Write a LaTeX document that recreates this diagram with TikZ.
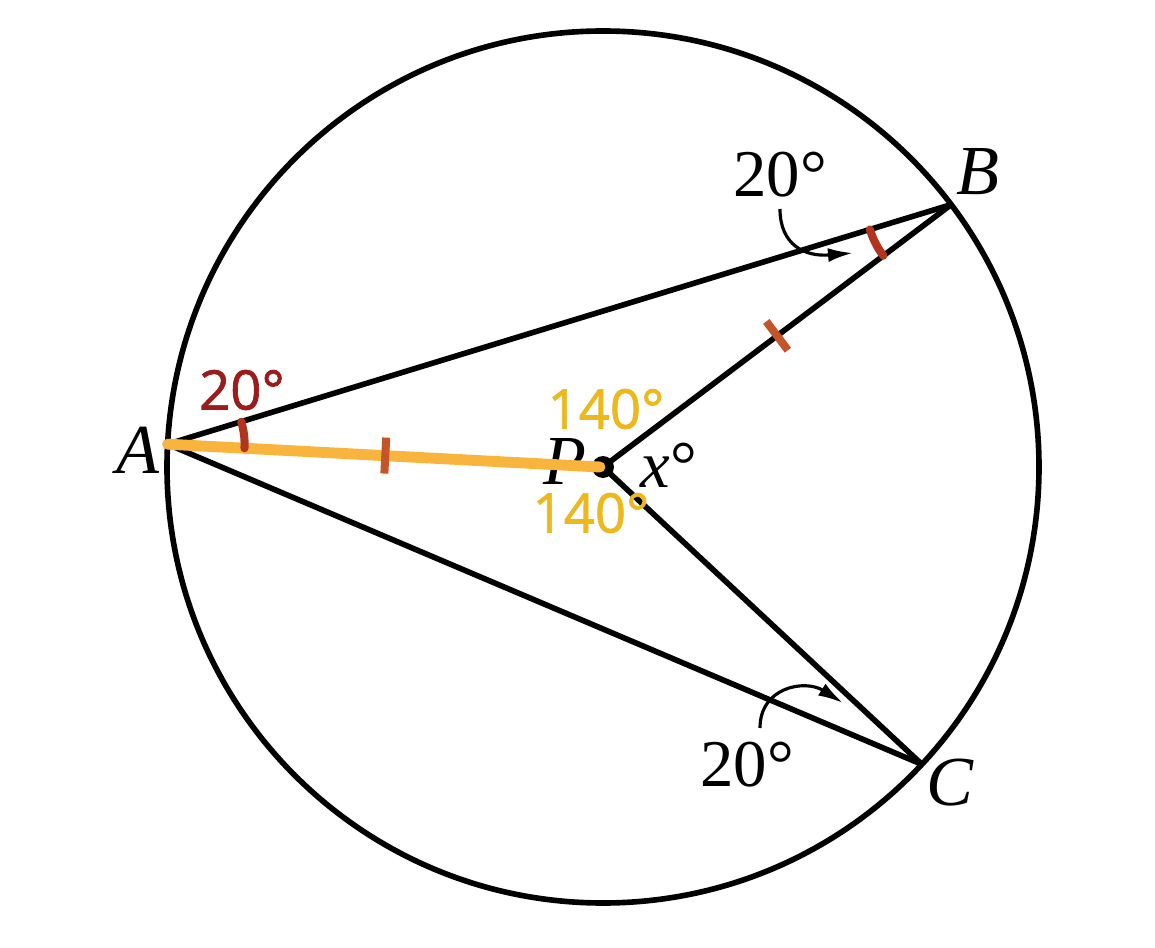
\documentclass[tikz,border=0pt]{standalone}
\usepackage{fontspec}
\setmainfont{Liberation Serif}
\newfontfamily\sanslab[FakeBold=1.3]{Open Sans}
\usetikzlibrary{arrows.meta}
\definecolor{segyellow}{HTML}{F8B43C}
\definecolor{txtyellow}{HTML}{ECB81E}
\definecolor{txtred}{HTML}{9A1C1C}
\definecolor{tickred}{HTML}{C4552B}
\definecolor{arcred}{HTML}{B0341E}
\tikzset{
  ptlabel/.style={font=\fontsize{20}{20}\selectfont\itshape},
  deglabel/.style={font=\fontsize{19}{19}\selectfont},
  redlabel/.style={font=\sanslab\fontsize{15.5}{15.5}\selectfont, text=txtred},
  yellabel/.style={font=\sanslab\fontsize{15.5}{15.5}\selectfont, text=txtyellow},
  tickmark/.style={fill=tickred, inner sep=0pt, minimum width=0.08cm, minimum height=0.36cm, sloped},
  angarc/.style={draw=arcred, line width=2.3pt, line cap=round},
  bentarrow/.style={line width=0.9pt, -{Latex[length=0.25cm, width=0.14cm]}}
}
\begin{document}
\begin{tikzpicture}[line width=1.6pt]
  \useasboundingbox (-6.03,-4.80) rectangle (5.52,4.67);
  % punti sul cerchio
  \coordinate (P) at (0,0);
  \coordinate (A) at (177:4.36);
  \coordinate (B) at (37:4.36);
  \coordinate (C) at (-43:4.36);
  % cerchio e corde
  \draw (P) circle [radius=4.36];
  \draw (A) -- (B);
  \draw (A) -- (C);
  \draw (P) -- (B);
  \draw (P) -- (C);
  % etichette dei punti
  \node[ptlabel] (labA) at (-4.65,0.17) {A};
  \node[ptlabel] (labB) at (3.75,2.95) {B};
  \node[ptlabel] (labC) at (3.47,-3.16) {C};
  \node[ptlabel] (labP) at (-0.38,0.06) {P};
  \node[deglabel] (labX) at (0.66,0.02) {\textit{x}°};
  % raggio AP evidenziato
  \fill (P) circle [radius=0.11];
  \draw[segyellow, line width=3.1pt, line cap=round] (A) -- ([xshift=-0.03cm]P);
  % raggi uguali
  \path (A) -- (P) node[tickmark, midway] (tickAP) {};
  \path (P) -- (B) node[tickmark, midway] (tickPB) {};
  % angoli alla circonferenza
  \draw[angarc] ([shift={(A)}]-3:0.77) arc [start angle=-3, end angle=17, radius=0.77];
  \draw[angarc] ([shift={(B)}]197:0.85) arc [start angle=197, end angle=217, radius=0.85];
  % ampiezze
  \node[deglabel] (degB) at (1.77,2.92) {20°};
  \node[deglabel] (degC) at (1.44,-2.98) {20°};
  \node[redlabel] (degA) at (-3.61,0.77) {20°};
  \node[yellabel] (degPB) at (0.03,0.58) {140°};
  \node[yellabel] (degPC) at (-0.12,-0.46) {140°};
  % frecce
  \coordinate (arrBs) at (1.77,2.58);
  \coordinate (arrBe) at (2.50,2.14);
  \coordinate (arrCs) at (1.57,-2.61);
  \coordinate (arrCe) at (2.40,-2.36);
  \draw[bentarrow] (arrBs) .. controls (1.77,2.22) and (2.02,2.10) .. (arrBe);
  \draw[bentarrow] (arrCs) .. controls (1.57,-2.20) and (2.02,-2.12) .. (arrCe);
\end{tikzpicture}
\end{document}
